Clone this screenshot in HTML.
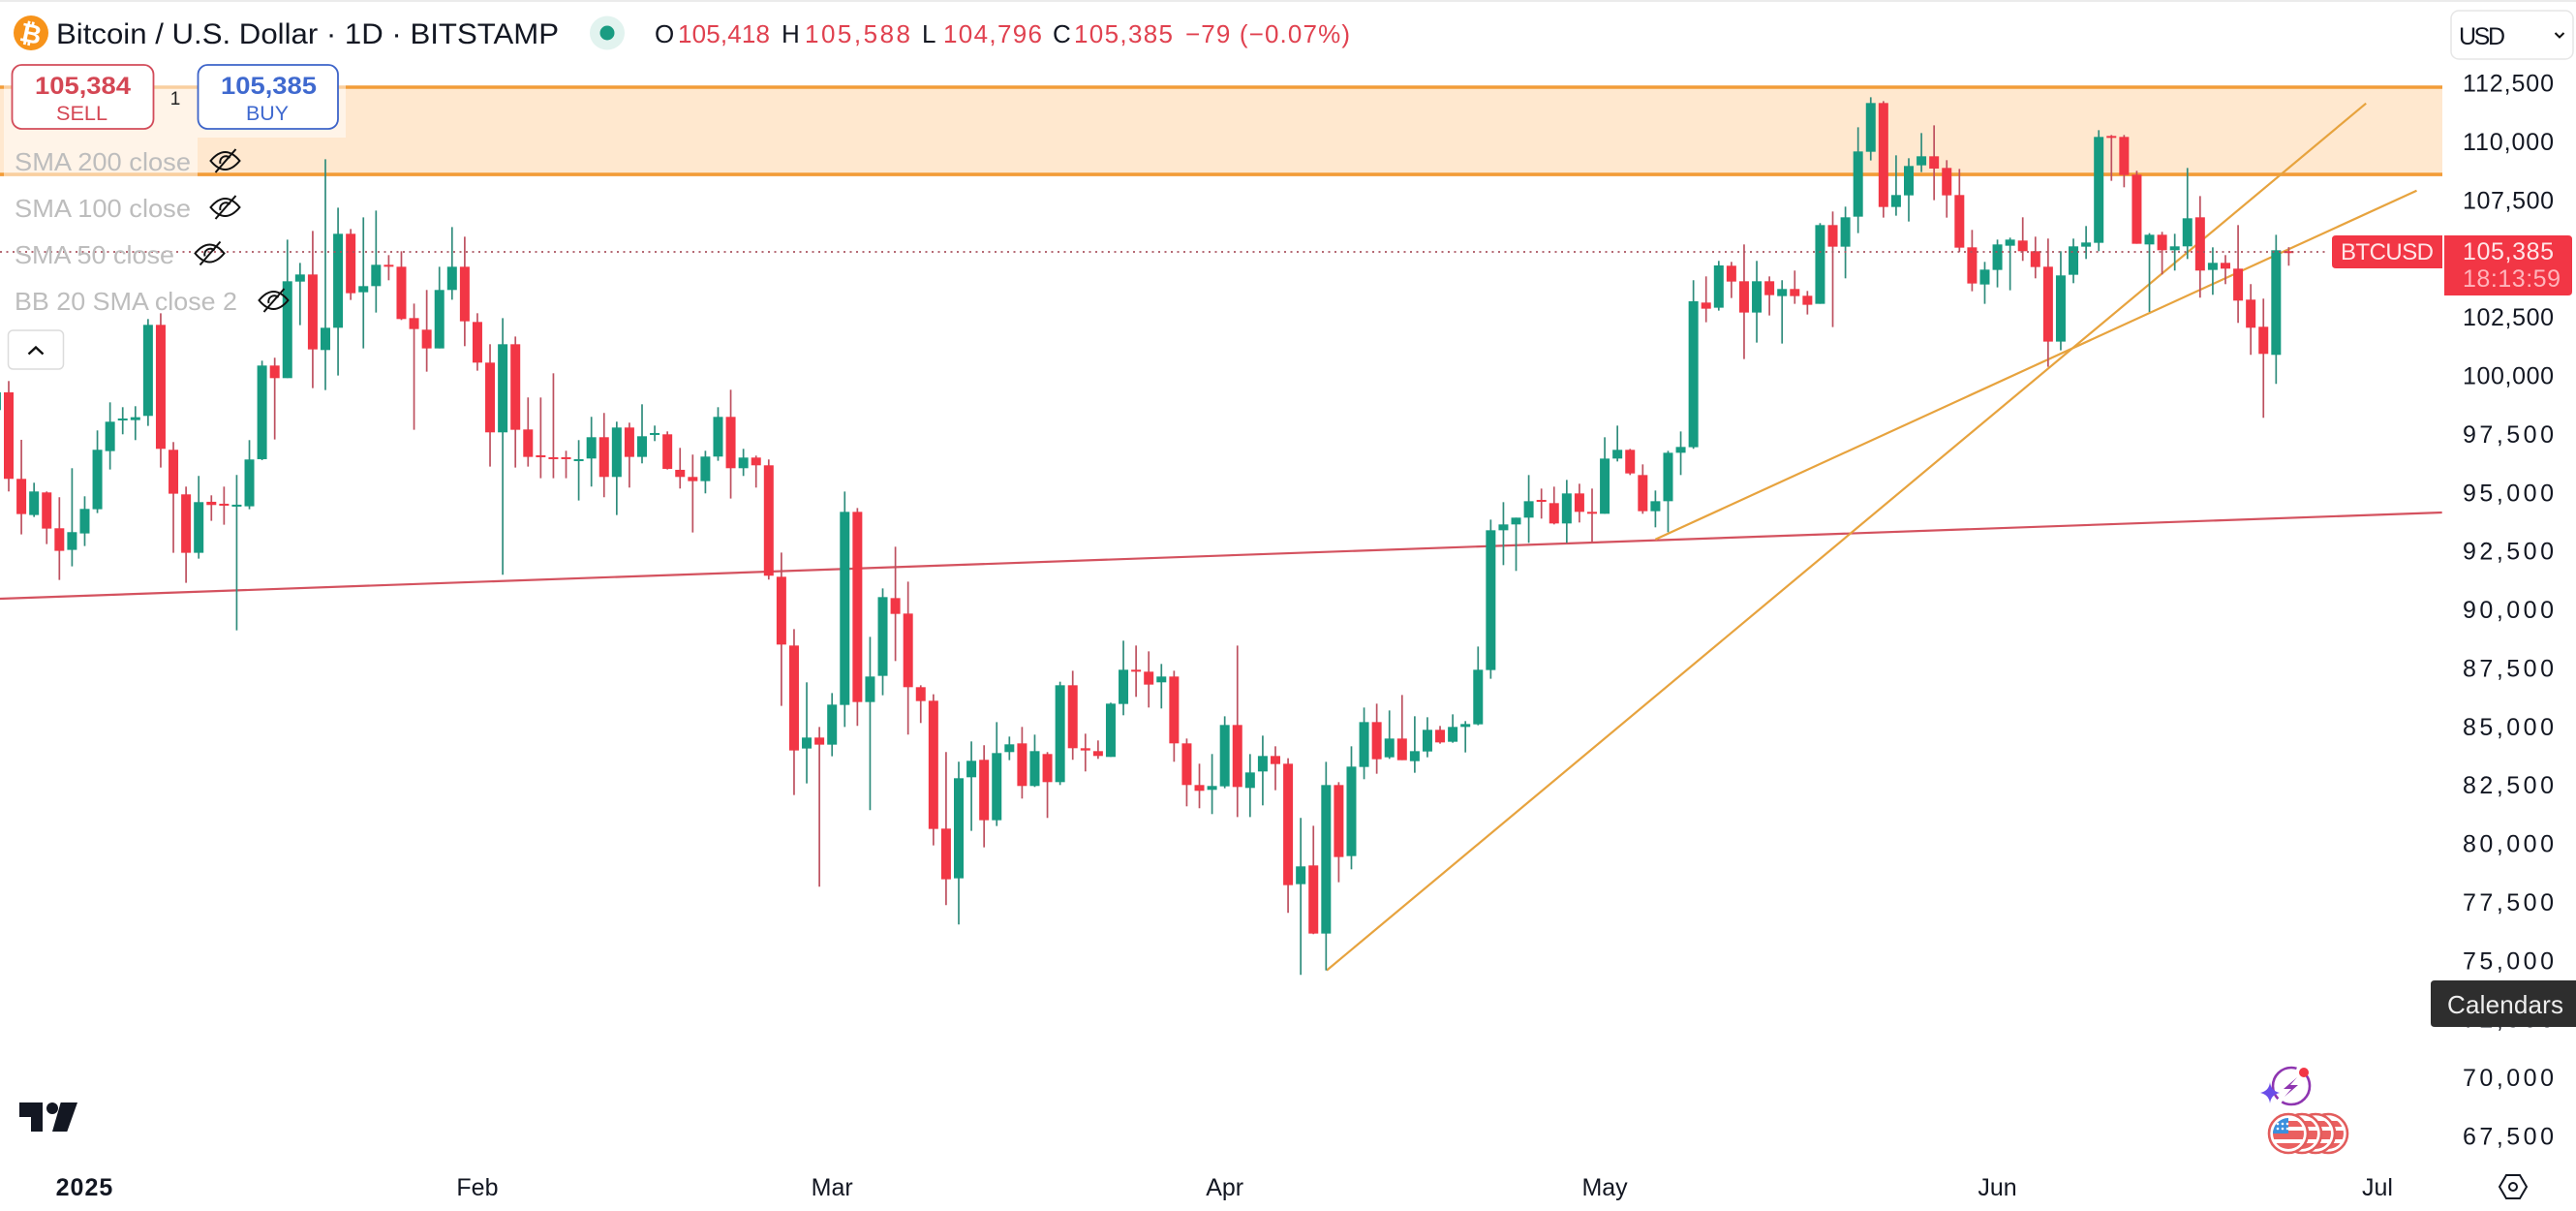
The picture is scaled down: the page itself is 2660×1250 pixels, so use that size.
<!DOCTYPE html>
<html lang="en">
<head>
<meta charset="utf-8">
<title>Bitcoin / U.S. Dollar 1D chart</title>
<style>
html,body{margin:0;padding:0;background:#fff;width:2660px;height:1250px;overflow:hidden}
svg{display:block;font-family:"Liberation Sans",sans-serif}
</style>
</head>
<body>
<svg id="chart" xmlns="http://www.w3.org/2000/svg" width="2660" height="1250" viewBox="0 0 2660 1250">
  <defs>
    <clipPath id="plot-clip"><rect x="0" y="0" width="2522" height="1200"/></clipPath>
    <clipPath id="flag-clip"><circle cx="0" cy="0" r="16"/></clipPath>
  </defs>
  <rect x="0" y="0" width="2660" height="1250" fill="#ffffff"/>
  <rect x="0" y="0" width="2660" height="2" fill="#ebebeb"/>

  <g id="zones" clip-path="url(#plot-clip)"></g>
  <g id="trendlines" clip-path="url(#plot-clip)"></g>
  <g id="candles" clip-path="url(#plot-clip)"></g>
  <g id="price-line"></g>

  <!-- legend veil -->
  <rect x="4" y="88" width="353" height="54" fill="#ffffff" fill-opacity="0.52"/>
  <rect x="4" y="142" width="200" height="41" fill="#ffffff" fill-opacity="0.52"/>

  <!-- header -->
  <g>
    <circle cx="32" cy="34" r="18" fill="#f7931a"/>
    <text x="32" y="44" font-size="27" font-weight="700" fill="#fff" text-anchor="middle" transform="rotate(12 32 34)">₿</text>
    <text x="58" y="45" font-size="30" fill="#131722" textLength="519" lengthAdjust="spacingAndGlyphs">Bitcoin / U.S. Dollar · 1D · BITSTAMP</text>
    <ellipse cx="627" cy="34" rx="18" ry="17.5" fill="#e2f3ef"/>
    <ellipse cx="627" cy="34" rx="7.5" ry="7.5" fill="#1a9c82"/>
    <g font-size="26">
      <text x="676" y="44" fill="#131722">O</text>
      <text x="700" y="44" fill="#e0414f" textLength="95">105,418</text>
      <text x="807" y="44" fill="#131722">H</text>
      <text x="831" y="44" fill="#e0414f" textLength="109">105,588</text>
      <text x="952" y="44" fill="#131722">L</text>
      <text x="974" y="44" fill="#e0414f" textLength="102">104,796</text>
      <text x="1087" y="44" fill="#131722">C</text>
      <text x="1109" y="44" fill="#e0414f" textLength="102">105,385</text>
      <text x="1224" y="44" fill="#e0414f" textLength="170">−79 (−0.07%)</text>
    </g>
  </g>

  <!-- sell / buy -->
  <g>
    <rect x="12.5" y="67" width="146" height="66" rx="10" fill="#fff" stroke="#d24c5a" stroke-width="1.8"/>
    <text x="36" y="97" font-size="25" font-weight="700" fill="#d44754" textLength="99" lengthAdjust="spacingAndGlyphs">105,384</text>
    <text x="58" y="124" font-size="21" fill="#d44754" textLength="53" lengthAdjust="spacingAndGlyphs">SELL</text>
  </g>
  <text x="181" y="108" font-size="19" fill="#222" text-anchor="middle">1</text>
  <g>
    <rect x="204.5" y="67" width="144.5" height="66" rx="10" fill="#fff" stroke="#3d64c9" stroke-width="1.8"/>
    <text x="228" y="97" font-size="25" font-weight="700" fill="#3f69cf" textLength="99" lengthAdjust="spacingAndGlyphs">105,385</text>
    <text x="254" y="124" font-size="21" fill="#3f69cf" textLength="44" lengthAdjust="spacingAndGlyphs">BUY</text>
  </g>

  <!-- indicators legend -->
  <g fill="#bdbdbd" font-size="26">
    <text x="15" y="176" textLength="182" lengthAdjust="spacingAndGlyphs">SMA 200 close</text>
    <text x="15" y="224" textLength="182" lengthAdjust="spacingAndGlyphs">SMA 100 close</text>
    <text x="15" y="272" textLength="165" lengthAdjust="spacingAndGlyphs">SMA 50 close</text>
    <text x="15" y="320" textLength="230" lengthAdjust="spacingAndGlyphs">BB 20 SMA close 2</text>
  </g>
  <g fill="none" stroke="#111" stroke-width="2">
    <g transform="translate(232.5 166)"><path d="M-15 0Q0-18 15 0Q0 18-15 0Z"/><path d="M-5 3A6 6 0 0 1 5-3"/><path d="M-10 12L11-12"/></g>
    <g transform="translate(232.5 214)"><path d="M-15 0Q0-18 15 0Q0 18-15 0Z"/><path d="M-5 3A6 6 0 0 1 5-3"/><path d="M-10 12L11-12"/></g>
    <g transform="translate(216.5 261.5)"><path d="M-15 0Q0-18 15 0Q0 18-15 0Z"/><path d="M-5 3A6 6 0 0 1 5-3"/><path d="M-10 12L11-12"/></g>
    <g transform="translate(282.5 310)"><path d="M-15 0Q0-18 15 0Q0 18-15 0Z"/><path d="M-5 3A6 6 0 0 1 5-3"/><path d="M-10 12L11-12"/></g>
  </g>
  <g>
    <rect x="8.5" y="341" width="57" height="40" rx="5" fill="#fff" stroke="#dcdcdc" stroke-width="1.5"/>
    <path d="M29.5 365.5L37 358.5L44.5 365.5" fill="none" stroke="#111" stroke-width="2.4"/>
  </g>

  <!-- price axis -->
  <g id="price-axis"></g>
  <g id="time-axis"></g>

  <g>
    <rect x="2531" y="11" width="126" height="50" rx="8" fill="#fff" stroke="#e6e6e6" stroke-width="1.5"/>
    <text x="2539" y="46" font-size="25" fill="#131722" textLength="48">USD</text>
    <path d="M2638.5 34L2643 38.5L2647.5 34" fill="none" stroke="#111" stroke-width="2"/>
  </g>

  <g>
    <path d="M2412 243H2522V277H2412Q2408 277 2408 273V247Q2408 243 2412 243Z" fill="#f23645"/>
    <text x="2417" y="268" font-size="24" fill="#ffe6e8" textLength="96">BTCUSD</text>
  </g>
  <g>
    <path d="M2524 243H2652Q2656 243 2656 247V301Q2656 305 2652 305H2524Z" fill="#f23645"/>
    <text x="2543" y="268" font-size="25" fill="#ffe6e8" textLength="94">105,385</text>
    <text x="2543" y="296" font-size="25" fill="#ffb4bb" textLength="101">18:13:59</text>
  </g>

  <g>
    <path d="M2514 1012H2660V1060H2514Q2510 1060 2510 1056V1016Q2510 1012 2514 1012Z" fill="#2e2e2e"/>
    <text x="2527" y="1046" font-size="26" fill="#eeeeee" textLength="120">Calendars</text>
  </g>

  <!-- event icons -->
  <g>
    <circle cx="2366" cy="1121" r="19" fill="none" stroke="#8e35b0" stroke-width="2.6" stroke-dasharray="40 5 50 8"/>
    <path d="M2372 1112L2358 1124H2366L2359 1132L2373 1120H2365Z" fill="#8e35b0"/>
    <circle cx="2379" cy="1107" r="5" fill="#f23645"/>
    <path d="M2344 1117Q2345 1126 2354 1128Q2345 1130 2344 1139Q2343 1130 2334 1128Q2343 1126 2344 1117Z" fill="#6a4de8"/>
  </g>
  <g>
    <g transform="translate(2404 1170)"><circle cx="0" cy="0" r="20" fill="#fff" stroke="#e25c5c" stroke-width="2.6"/><g clip-path="url(#flag-clip)"><rect x="-16" y="-13" width="32" height="6" fill="#ea6060"/><rect x="-16" y="-3" width="32" height="9" fill="#ea6060"/><rect x="-16" y="10" width="32" height="8" fill="#ea6060"/></g></g>
    <g transform="translate(2391 1170)"><circle cx="0" cy="0" r="20" fill="#fff" stroke="#e25c5c" stroke-width="2.6"/><g clip-path="url(#flag-clip)"><rect x="-16" y="-13" width="32" height="6" fill="#ea6060"/><rect x="-16" y="-3" width="32" height="9" fill="#ea6060"/><rect x="-16" y="10" width="32" height="8" fill="#ea6060"/></g></g>
    <g transform="translate(2377 1170)"><circle cx="0" cy="0" r="20" fill="#fff" stroke="#e25c5c" stroke-width="2.6"/><g clip-path="url(#flag-clip)"><rect x="-16" y="-13" width="32" height="6" fill="#ea6060"/><rect x="-16" y="-3" width="32" height="9" fill="#ea6060"/><rect x="-16" y="10" width="32" height="8" fill="#ea6060"/></g></g>
    <g transform="translate(2363 1170)"><circle cx="0" cy="0" r="20" fill="#fff" stroke="#e25c5c" stroke-width="2.6"/><g clip-path="url(#flag-clip)"><rect x="-16" y="-13" width="32" height="6" fill="#ea6060"/><rect x="-16" y="-3" width="32" height="9" fill="#ea6060"/><rect x="-16" y="10" width="32" height="8" fill="#ea6060"/><rect x="-16" y="-16" width="16" height="16" fill="#3b8fdd"/><g fill="#fff"><circle cx="-11" cy="-10" r="1.3"/><circle cx="-6" cy="-10" r="1.3"/><circle cx="-1" cy="-10" r="1.3"/><circle cx="-11" cy="-5" r="1.3"/><circle cx="-6" cy="-5" r="1.3"/><circle cx="-1" cy="-5" r="1.3"/></g></g></g>
  </g>

  <g fill="#131722">
    <path d="M20 1138H44V1168H32V1153H20Z"/>
    <circle cx="54" cy="1144" r="6"/>
    <path d="M62.7 1138H80L69.3 1168H54Z"/>
  </g>

  <g fill="none" stroke="#131722" stroke-width="2">
    <path d="M2588 1213H2602L2609 1225L2602 1237H2588L2581 1225Z"/>
    <circle cx="2595" cy="1225" r="4"/>
  </g>
</svg>

<script>
/* ---------- chart data (prices in USD, daily bars) ---------- */
var startDate = '2024-12-25';
var opens = [98624,
99383,95685,94139,95105,93573,92649,93352,94387,96871,98182,
98196,98376,102267,96927,95022,92524,94705,94622,94525,94512,
96526,100528,99990,104116,104420,101191,102143,106159,103661,103923,
104834,104751,102557,102060,101260,103758,104751,102391,100653,97672,
101439,97796,96692,96609,96609,96471,96554,97465,95767,97879,
96623,97575,97589,96071,95767,95588,96637,98334,96140,96595,
96264,91500,88561,84159,84628,84324,86022,94274,86146,87264,
90589,89927,86781,86201,80736,78611,82930,83676,81095,84007,
84379,82558,83924,82723,86863,84172,84048,83800,86063,87526,
87443,86988,87236,84379,82599,82392,82543,85165,82474,83178,
83840,83509,78362,79162,76250,82598,79562,83371,85289,83785,
84585,83619,84033,84958,84447,85082,85193,87513,93488,93737,
94027,94786,94648,93778,95062,94275,94192,96552,96925,95848,
94303,94730,96800,97038,103220,103000,104794,104131,102793,104131,
103496,103800,103510,103165,106532,105608,106891,109665,111749,107305,
107802,109085,109472,108975,107816,105580,103993,104614,105649,105870,
105415,104752,101551,104407,105608,105773,110341,110300,108685,105704,
106118,105456,105622,106864,104614,104918,104669,103345,102185,100985,
105418];
var highs = [99700,
99866,97354,95519,95146,94898,96140,94939,97755,98955,98748,
98790,102516,102764,97258,95353,95809,94981,95353,95850,97341,
100735,100860,105910,104917,106283,109347,107277,106366,106863,107152,
105248,105414,103178,103758,104751,106449,106035,102764,101439,102557,
101770,99162,99162,100197,96885,97341,98334,98500,98127,98086,
98872,97962,97713,97009,96720,96885,98748,99493,96968,96678,
96513,92535,89265,86988,85083,86532,95143,94440,88933,91003,
92784,91293,86863,86477,84007,83593,84462,84297,85290,84669,
85083,84752,84007,87015,87484,84793,84504,86118,88768,88561,
88312,87774,87484,84586,83510,83924,85538,88560,83923,84710,
84254,83744,81191,80859,83592,82722,84254,85910,86076,85786,
86448,85538,85496,85124,85620,85331,88518,93944,94689,94027,
95848,95269,95351,95641,95476,95269,97463,97960,96966,96304,
95186,96883,97711,104173,104338,105001,104959,105704,105001,104338,
104173,104587,103717,106615,107112,107319,110714,111997,111832,109513,
109389,110465,110797,109306,108934,106325,104959,105911,105994,106864,
106036,105953,105415,105953,106491,110590,110383,110383,108851,106187,
106243,106160,108975,107774,105580,105249,106532,104007,103386,106118,
105588];
var lows = [98300,
95146,93311,94056,92897,91365,91945,92814,94222,96085,97589,
97341,97948,96168,92524,91241,92276,93891,93725,89212,94387,
96485,97368,99990,102253,99562,99480,100101,103330,101260,102792,
104172,102474,97782,100266,101260,103344,101356,100308,96209,91586,
96168,96209,95712,95712,95712,94760,95353,94898,94139,95312,
96347,97299,96085,95271,93394,95064,96457,94843,95809,95312,
91379,85980,82171,82668,78252,83827,85083,85125,81523,86436,
87898,84752,85249,80019,77466,76638,80640,79936,80847,83662,
82020,82516,81192,82599,83676,83179,83717,83800,85580,86367,
85911,85870,83593,81688,81606,81357,82460,81232,81232,81729,
82377,77133,74484,76222,74677,78444,78996,82847,83081,83716,
83661,83123,83785,84365,84406,83992,85151,87140,91998,91750,
92950,93985,93737,92950,93820,92992,94192,96428,95848,94192,
93613,93406,95848,96969,102379,102875,103414,100805,101509,102668,
101468,103165,102710,103165,102172,104255,106187,109292,106850,106933,
106684,108796,107595,106850,105387,103703,103165,103869,103745,105001,
104255,100474,101178,104048,105083,105415,108423,108147,105732,102820,
104421,104587,105083,103427,103552,104007,102351,100985,98294,99743,
104796];
var closes = [99383,
95685,94180,95146,93559,92607,93408,94401,96927,98127,98265,
98320,102267,96968,95050,92524,94691,94567,94553,94581,96513,
100528,99990,104130,104420,101218,102143,106159,103620,103923,104834,
104751,102516,102088,101260,103758,104751,102419,100653,97672,101439,
97782,96623,96623,96540,96540,96526,97465,95767,97879,96623,
97506,97644,96112,95767,95588,96637,98334,96140,96595,96264,
91545,88602,84076,84628,84324,86035,94274,86146,87236,90631,
89913,86781,86187,80722,78570,82889,83634,81095,83965,84338,
82558,84048,82723,86863,84172,84076,83841,86077,87526,87471,
86891,87236,84379,82599,82351,82558,85165,82515,83136,83840,
83495,78320,79121,76250,82598,79521,83385,85289,83702,84585,
83661,84047,84958,84420,85082,85206,87525,93488,93737,94027,
94730,94730,93778,95062,94275,94192,96552,96925,95917,94303,
94730,96800,97049,103276,102958,104807,104117,102793,104131,103538,
103800,103496,103124,106532,105608,106864,109679,111749,107305,107816,
109058,109472,108947,107802,105566,104035,104628,105704,105911,105415,
104738,101551,104380,105622,105787,110300,110286,108671,105732,106118,
105456,105622,106822,104587,104918,104669,103303,102144,101026,105456,
105385];

var priceTickValues = [112500,110000,107500,102500,100000,97500,95000,92500,90000,87500,85000,82500,80000,77500,75000,72500,70000,67500];
var timeTickDates = ['2025-01-01','2025-02-01','2025-03-01','2025-04-01','2025-05-01','2025-06-01','2025-07-01'];
var timeTickLabels = ['2025','Feb','Mar','Apr','May','Jun','Jul'];
var zonePrices = [112425,108698];
var lastPrice = 105385;
var rangeLineBars = [0.3,193.1];
var rangeLinePrices = [90561,94246];
var steepTrendBars = [105.05,187.1];
var steepTrendPrices = [74677,111734];
var shallowTrendBars = [131,191.1];
var shallowTrendPrices = [93099,108007];

/* ---------- axis functions ---------- */
var NS = 'http://www.w3.org/2000/svg';
var PLOT_RIGHT = 2522;
function yOf(price){ return (116152 - price) * 0.02415; }
function xOf(bar){ return -4.08 + bar * 13.08; }
function barOfDate(d){ return (Date.parse(d) - Date.parse(startDate)) / 86400000; }
function mk(tag, parent){ var e = document.createElementNS(NS, tag); parent.appendChild(e); return e; }

/* zone */
var zones = document.getElementById('zones');
var zoneFill = mk('rect', zones);


zoneFill.setAttribute('x', 0);
zoneFill.setAttribute('y', yOf(zonePrices[0]));
zoneFill.setAttribute('width', PLOT_RIGHT);
zoneFill.setAttribute('height', yOf(zonePrices[1]) - yOf(zonePrices[0]));
zoneFill.setAttribute('fill', '#ffe8cf');
zonePrices.forEach(function(p){
  var l = mk('line', zones);
  
  
  l.setAttribute('x1', 0);
  l.setAttribute('x2', PLOT_RIGHT);
  l.setAttribute('y1', yOf(p));
  l.setAttribute('y2', yOf(p));
  l.setAttribute('stroke', '#f29c38');
  l.setAttribute('stroke-width', 3.6);
});

/* trendlines */
var trendGroup = document.getElementById('trendlines');
function drawLine(bars, prices, color, width){
  var l = mk('line', trendGroup);
  l.setAttribute('x1', xOf(bars[0]));
  l.setAttribute('x2', xOf(bars[1]));
  l.setAttribute('y1', yOf(prices[0]));
  l.setAttribute('y2', yOf(prices[1]));
  l.setAttribute('stroke', color);
  l.setAttribute('stroke-width', width);
  return l;
}
var rangeLine = drawLine(rangeLineBars, rangeLinePrices, '#d4525f', 2.2);


var steepLine = drawLine(steepTrendBars, steepTrendPrices, '#e7a33e', 2.2);


var shallowLine = drawLine(shallowTrendBars, shallowTrendPrices, '#e7a33e', 2.2);



/* candles */
var candleGroup = document.getElementById('candles');
opens.forEach(function(o, i){
  var c = closes[i], up = c >= o;
  var cx = xOf(i);
  var g = mk('g', candleGroup);
  
  
  var wick = mk('line', g);
  
  
  wick.setAttribute('x1', cx);
  wick.setAttribute('x2', cx);
  wick.setAttribute('y1', yOf(highs[i]));
  wick.setAttribute('y2', yOf(lows[i]));
  wick.setAttribute('stroke', up ? '#2f8c7c' : '#bd505f');
  wick.setAttribute('stroke-width', 1.7);
  var top = yOf(Math.max(o, c)), bot = yOf(Math.min(o, c));
  var body = mk('rect', g);
  
  
  body.setAttribute('x', cx - 5);
  body.setAttribute('y', top);
  body.setAttribute('width', 10);
  body.setAttribute('height', Math.max(bot - top, 2));
  body.setAttribute('fill', up ? '#169b81' : '#f23645');
});

/* last price line */
var plGroup = document.getElementById('price-line');
var pl = mk('line', plGroup);


pl.setAttribute('x1', 0);
pl.setAttribute('x2', 2404);
pl.setAttribute('y1', yOf(lastPrice));
pl.setAttribute('y2', yOf(lastPrice));
pl.setAttribute('stroke', '#a8505c');
pl.setAttribute('stroke-width', 2);
pl.setAttribute('stroke-dasharray', '2 4.5');
pl.setAttribute('stroke-opacity', '0.85');

/* price axis */
var priceAxis = document.getElementById('price-axis');
priceTickValues.forEach(function(v){
  var t = mk('text', priceAxis);
  
  
  t.setAttribute('x', 2543);
  t.setAttribute('y', yOf(v) + 6.5);
  t.setAttribute('font-size', 25);
  t.setAttribute('fill', '#131722');
  t.setAttribute('textLength', 94);
  t.textContent = v.toLocaleString('en-US');
});

/* time axis */
var timeAxis = document.getElementById('time-axis');
timeTickDates.forEach(function(d, i){
  var t = mk('text', timeAxis);
  
  
  t.setAttribute('x', xOf(barOfDate(d)));
  t.setAttribute('y', 1234);
  t.setAttribute('font-size', 25);
  t.setAttribute('text-anchor', 'middle');
  t.setAttribute('fill', '#131722');
  if (timeTickLabels[i] === '2025') { t.setAttribute('font-weight', '700'); t.setAttribute('letter-spacing', '1'); }
  t.textContent = timeTickLabels[i];
});
</script>
</body>
</html>
